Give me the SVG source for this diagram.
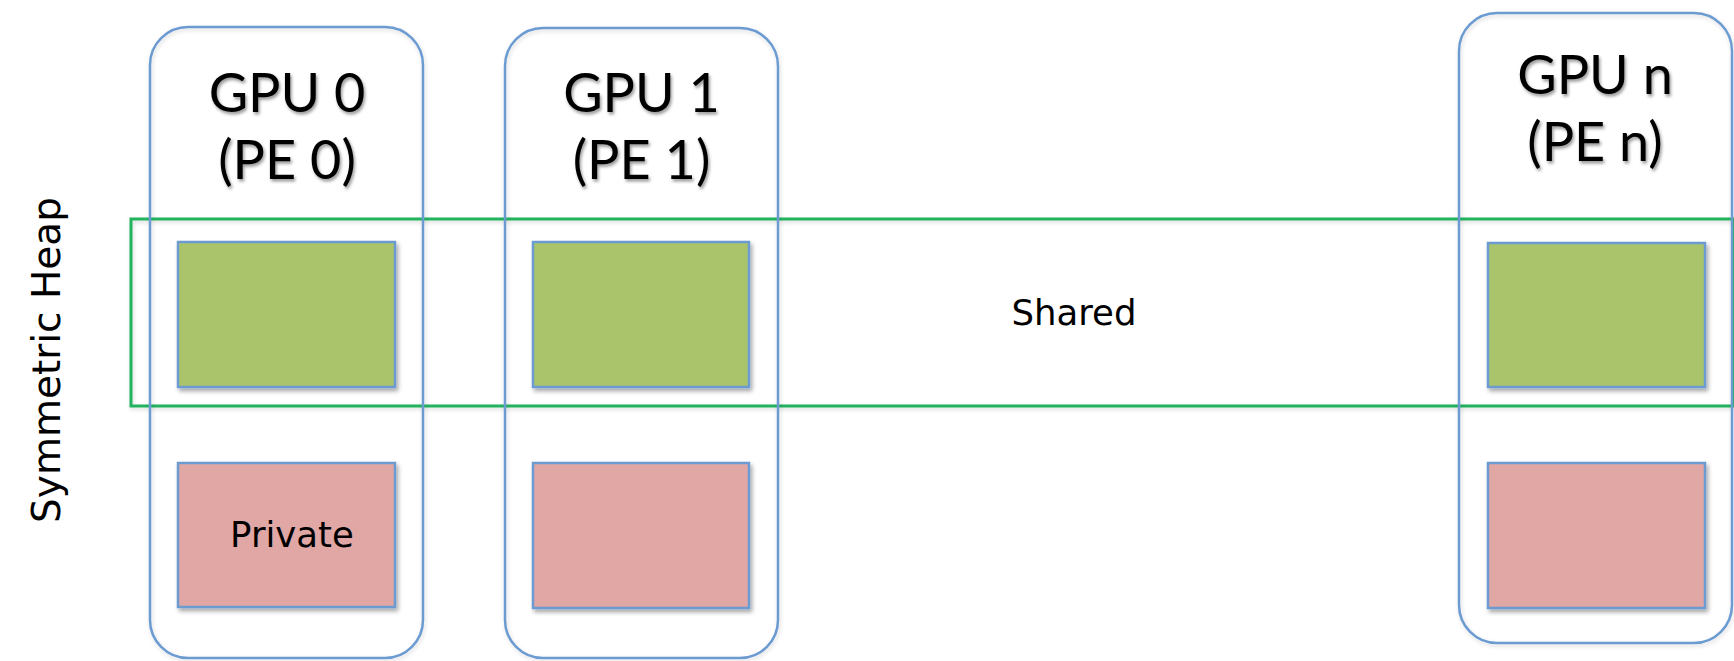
<svg xmlns="http://www.w3.org/2000/svg" width="1734" height="661" viewBox="0 0 1734 661">
  <defs>
    <filter id="shadow" x="-10%" y="-10%" width="125%" height="130%">
      <feDropShadow dx="2" dy="3" stdDeviation="2.2" flood-color="#000" flood-opacity="0.35"/>
    </filter>
    <filter id="textShadow" x="-10%" y="-20%" width="125%" height="150%">
      <feDropShadow dx="1.5" dy="2.5" stdDeviation="1.8" flood-color="#000" flood-opacity="0.4"/>
    </filter>
    <filter id="softShadow" x="-5%" y="-5%" width="110%" height="110%">
      <feDropShadow dx="1" dy="2" stdDeviation="2" flood-color="#000" flood-opacity="0.15"/>
    </filter>
  </defs>
  <style>
    .gpu { fill: none; stroke: #6c9bd2; stroke-width: 2.5; }
    .shared { fill: #aac46c; stroke: #6c9bd2; stroke-width: 2.5; }
    .private { fill: #e0a7a5; stroke: #6c9bd2; stroke-width: 2.5; }
    .heap { fill: none; stroke: #22b35e; stroke-width: 3; }
    .title { font-family: Lato, "Open Sans", sans-serif; font-size: 54px; fill: #000; text-anchor: middle; }
    .label { font-family: "DejaVu Sans", sans-serif; font-size: 35.5px; fill: #000; text-anchor: middle; }
    .side { font-family: "DejaVu Sans", sans-serif; font-size: 39px; fill: #000; text-anchor: middle; }
  </style>

  <rect width="1734" height="661" fill="#fff"/>

  <!-- symmetric heap band spanning every GPU -->
  <g id="symmetric-heap">
    <rect class="heap" x="131" y="219" width="1603" height="187" filter="url(#softShadow)"/>
    <text class="side" transform="translate(60 360) rotate(-90)">Symmetric Heap</text>
    <text class="label" x="1074" y="325">Shared</text>
  </g>

  <g id="gpu0">
    <rect class="gpu" x="150" y="27" width="273" height="631" rx="38" filter="url(#softShadow)"/>
    <text class="title" x="287" y="112" filter="url(#textShadow)">GPU 0</text>
    <text class="title" x="287" y="179" filter="url(#textShadow)">(PE 0)</text>
    <rect class="shared" x="178" y="242" width="217" height="145" filter="url(#shadow)"/>
    <rect class="private" x="178" y="463" width="217" height="144" filter="url(#shadow)"/>
    <text class="label" x="292" y="547">Private</text>
  </g>

  <g id="gpu1">
    <rect class="gpu" x="505" y="28" width="273" height="630" rx="38" filter="url(#softShadow)"/>
    <text class="title" x="641.5" y="112" filter="url(#textShadow)">GPU 1</text>
    <text class="title" x="641.5" y="179" filter="url(#textShadow)">(PE 1)</text>
    <rect class="shared" x="533" y="242" width="216" height="145" filter="url(#shadow)"/>
    <rect class="private" x="533" y="463" width="216" height="145" filter="url(#shadow)"/>
  </g>

  <g id="gpun">
    <rect class="gpu" x="1459" y="13" width="273" height="630" rx="38" filter="url(#softShadow)"/>
    <text class="title" x="1595" y="94" filter="url(#textShadow)">GPU n</text>
    <text class="title" x="1595" y="161" filter="url(#textShadow)">(PE n)</text>
    <rect class="shared" x="1488" y="243" width="217" height="144" filter="url(#shadow)"/>
    <rect class="private" x="1488" y="463" width="217" height="145" filter="url(#shadow)"/>
  </g>
</svg>
